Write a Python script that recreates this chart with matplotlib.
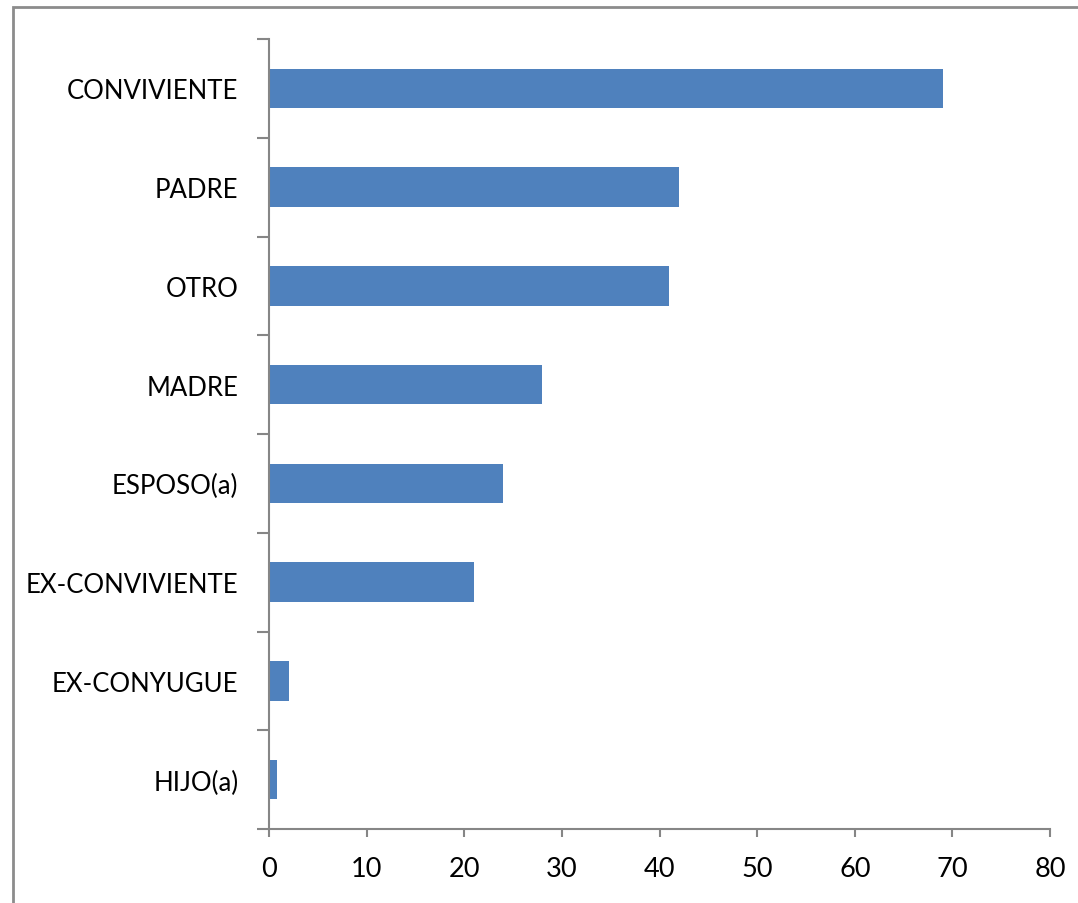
import matplotlib.pyplot as plt
from matplotlib.patches import Rectangle

categorias = ["HIJO(a)", "EX-CONYUGUE", "EX-CONVIVIENTE", "ESPOSO(a)",
              "MADRE", "OTRO", "PADRE", "CONVIVIENTE"]
valores = [0.8, 2, 21, 24, 28, 41, 42, 69]
x_ticks = [0, 10, 20, 30, 40, 50, 60, 70, 80]

plt.rcParams['font.family'] = ['Lato', 'DejaVu Sans']

fig = plt.figure(figsize=(10.78, 9.04), dpi=100)
# marco exterior del grafico
fig.patches.append(Rectangle((13 / 1078, -0.05), 1.2, 1 - 8 / 904 + 0.05,
                             transform=fig.transFigure, fill=False,
                             edgecolor="#8c8c8c", linewidth=2))

ax = fig.add_axes([269 / 1078, 1 - 830 / 904, (1050 - 269) / 1078, (830 - 40) / 904])
pos = list(range(len(categorias)))
ax.barh(pos, valores, height=0.4, color="#4F81BD")

ax.set_xlim(0, 80)
ax.set_ylim(-0.5, len(categorias) - 0.5)
ax.set_xticks(x_ticks)
ax.set_yticks(pos)
ax.set_yticklabels(categorias)
ax.set_yticks([p - 0.5 for p in pos] + [len(pos) - 0.5], minor=True)

for lado in ["top", "right"]:
    ax.spines[lado].set_visible(False)
for lado in ["left", "bottom"]:
    ax.spines[lado].set_color("#868686")
    ax.spines[lado].set_linewidth(1.5)

ax.tick_params(axis="y", which="major", length=0, pad=22, labelsize=18.5)
ax.tick_params(axis="y", which="minor", length=8.6, width=1.5, color="#868686")
ax.tick_params(axis="x", length=5.8, width=1.5, color="#868686", pad=14, labelsize=19.5)

plt.savefig("out.png", dpi=100)
